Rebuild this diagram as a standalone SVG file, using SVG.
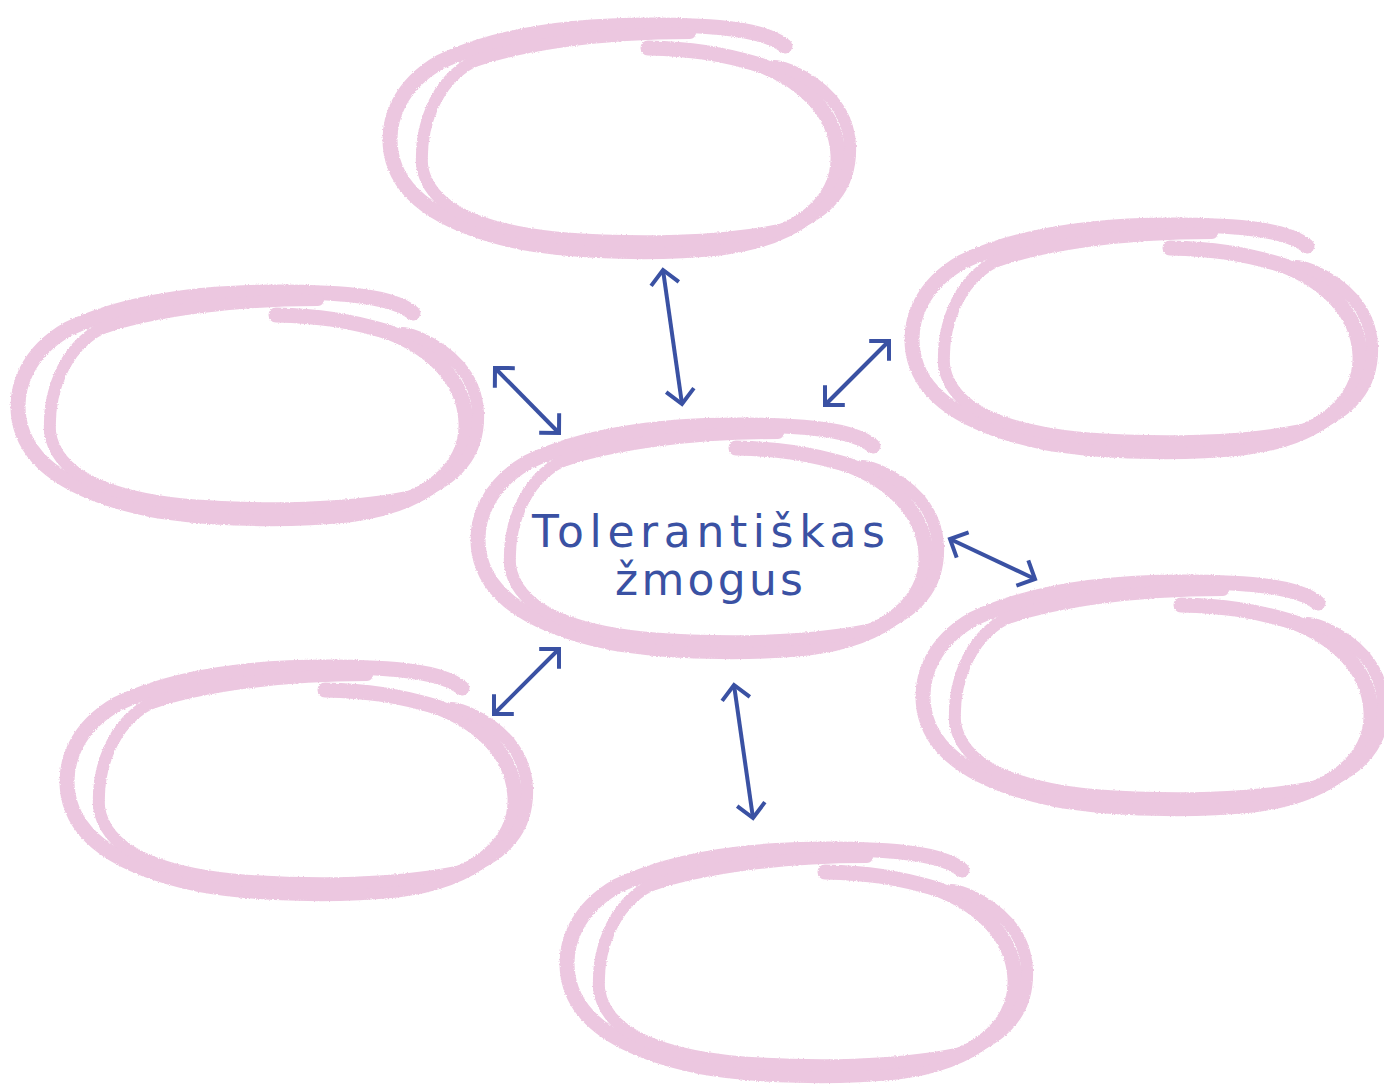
<svg xmlns="http://www.w3.org/2000/svg" xmlns:xlink="http://www.w3.org/1999/xlink" width="1384" height="1086" viewBox="0 0 1384 1086">
  <style>
    .stroke { fill: none; stroke: #ecc7e0; stroke-width: 15; stroke-linecap: round; stroke-linejoin: round; }
    .thin { stroke-width: 12; }
    .conn { fill: none; stroke: #3a51a3; stroke-width: 4; }
    .label { font-family: "DejaVu Sans", "Liberation Sans", sans-serif; font-size: 44px; fill: #3a51a3; }
  </style>
  <defs>
    <filter id="rough" x="-5%" y="-5%" width="110%" height="110%">
      <feTurbulence type="fractalNoise" baseFrequency="0.8" numOctaves="1" seed="3" result="n"/>
      <feDisplacementMap in="SourceGraphic" in2="n" scale="3" xChannelSelector="R" yChannelSelector="G"/>
    </filter>
    <g id="blob" filter="url(#rough)">
      <path class="stroke" d="M785,46 C765,30 720,25 650,25 C560,25 490,38 440,62 C400,85 386,120 391,152 C398,195 440,225 520,242 C580,253 660,254 720,248 C800,238 840,200 838,155 C836,110 800,80 760,65 C720,53 690,49 648,48"/>
      <path class="stroke thin" d="M690,33 C600,33 520,45 472,62 C436,82 420,125 422,165 C428,208 480,230 560,238 C640,244 720,242 780,230 C830,215 852,185 850,145 C848,108 822,84 790,70 C782,67 778,66 774,66"/>
    </g>
    <marker id="arr" viewBox="-25 -25 50 50" markerWidth="50" markerHeight="50" refX="0" refY="0" orient="auto-start-reverse" markerUnits="userSpaceOnUse">
      <path d="M-14,-14 L0,0 L-14,14" fill="none" stroke="#3a51a3" stroke-width="4" stroke-linejoin="miter"/>
    </marker>
  </defs>
  <rect width="1384" height="1086" fill="#ffffff"/>

  <g id="node-top"><use xlink:href="#blob" href="#blob"/></g>
  <g id="node-upper-right"><use xlink:href="#blob" href="#blob" transform="translate(522,200)"/></g>
  <g id="node-left"><use xlink:href="#blob" href="#blob" transform="translate(-372,267)"/></g>
  <g id="node-right"><use xlink:href="#blob" href="#blob" transform="translate(533,557)"/></g>
  <g id="node-lower-left"><use xlink:href="#blob" href="#blob" transform="translate(-323,642)"/></g>
  <g id="node-bottom"><use xlink:href="#blob" href="#blob" transform="translate(177,824)"/></g>
  <g id="node-center">
    <use xlink:href="#blob" href="#blob" transform="translate(88,400)"/>
    <text class="label" x="532" y="547" textLength="353" lengthAdjust="spacing">Tolerantiškas</text>
    <text class="label" x="615" y="595" textLength="188" lengthAdjust="spacing">žmogus</text>
  </g>

  <g id="connectors">
    <line class="conn" x1="663" y1="270" x2="682" y2="404" marker-start="url(#arr)" marker-end="url(#arr)"/>
    <line class="conn" x1="889" y1="341" x2="825" y2="405" marker-start="url(#arr)" marker-end="url(#arr)"/>
    <line class="conn" x1="495" y1="368" x2="559" y2="433" marker-start="url(#arr)" marker-end="url(#arr)"/>
    <line class="conn" x1="950" y1="539" x2="1035" y2="579" marker-start="url(#arr)" marker-end="url(#arr)"/>
    <line class="conn" x1="559" y1="649" x2="494" y2="714" marker-start="url(#arr)" marker-end="url(#arr)"/>
    <line class="conn" x1="734" y1="685" x2="753" y2="818" marker-start="url(#arr)" marker-end="url(#arr)"/>
  </g>
</svg>
